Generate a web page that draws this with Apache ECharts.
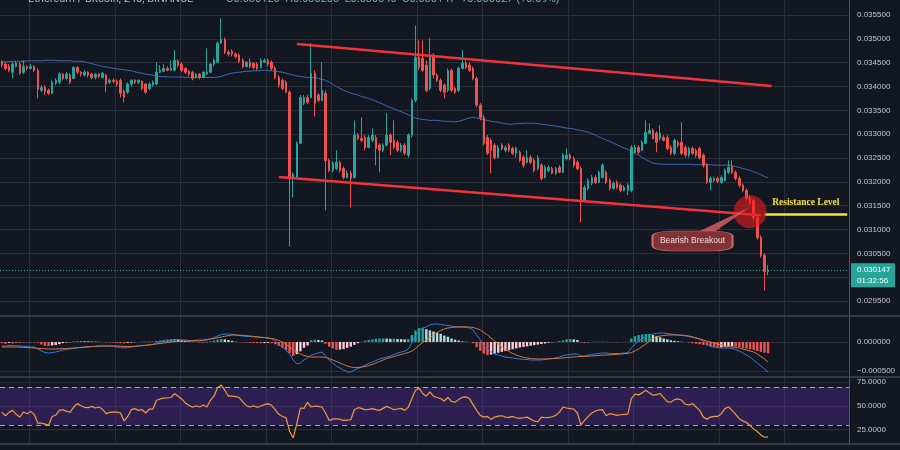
<!DOCTYPE html>
<html>
<head>
<meta charset="utf-8">
<script src="https://cdn.jsdelivr.net/npm/echarts@6.0.0/dist/echarts.min.js"></script>
<style>
html,body{margin:0;padding:0;background:#131722;overflow:hidden}
#chart{width:900px;height:450px}
</style>
</head>
<body>
<div id="chart"></div>
<script>
// ---- DATA (ETH/BTC, 4h candles) ----
// [open, close, low, high]
const candles = [
[0.03451,0.03445,0.03440,0.03455],[0.03447,0.03438,0.03434,0.03451],[0.03442,0.03434,0.03430,0.03447],[0.03430,0.03447,0.03417,0.03451],
[0.03442,0.03449,0.03440,0.03453],[0.03447,0.03428,0.03424,0.03451],[0.03430,0.03442,0.03426,0.03455],[0.03442,0.03438,0.03434,0.03445],
[0.03438,0.03442,0.03436,0.03447],[0.03442,0.03434,0.03430,0.03445],[0.03434,0.03394,0.03375,0.03438],[0.03392,0.03398,0.03388,0.03403],
[0.03398,0.03390,0.03382,0.03403],[0.03392,0.03386,0.03382,0.03396],[0.03386,0.03409,0.03384,0.03413],[0.03407,0.03413,0.03403,0.03417],
[0.03409,0.03426,0.03405,0.03430],[0.03426,0.03417,0.03413,0.03428],[0.03417,0.03426,0.03413,0.03430],[0.03424,0.03409,0.03405,0.03428],
[0.03417,0.03440,0.03415,0.03442],[0.03440,0.03430,0.03426,0.03442],[0.03430,0.03426,0.03421,0.03432],[0.03424,0.03430,0.03421,0.03434],
[0.03430,0.03424,0.03419,0.03432],[0.03426,0.03419,0.03415,0.03428],[0.03419,0.03426,0.03415,0.03428],[0.03426,0.03421,0.03417,0.03428],
[0.03419,0.03428,0.03417,0.03430],[0.03424,0.03405,0.03388,0.03426],[0.03409,0.03413,0.03405,0.03417],[0.03413,0.03411,0.03407,0.03417],
[0.03411,0.03405,0.03400,0.03415],[0.03413,0.03386,0.03377,0.03417],[0.03390,0.03377,0.03367,0.03394],[0.03388,0.03405,0.03384,0.03409],
[0.03405,0.03413,0.03400,0.03415],[0.03413,0.03409,0.03405,0.03415],[0.03409,0.03413,0.03405,0.03415],[0.03411,0.03396,0.03392,0.03413],
[0.03405,0.03388,0.03384,0.03407],[0.03396,0.03405,0.03392,0.03409],[0.03403,0.03409,0.03400,0.03413],[0.03405,0.03430,0.03403,0.03451],
[0.03430,0.03434,0.03428,0.03445],[0.03432,0.03438,0.03430,0.03447],[0.03438,0.03434,0.03432,0.03442],[0.03434,0.03438,0.03432,0.03455],
[0.03434,0.03455,0.03432,0.03476],[0.03453,0.03445,0.03440,0.03457],[0.03447,0.03434,0.03430,0.03451],[0.03438,0.03430,0.03426,0.03440],
[0.03432,0.03426,0.03421,0.03434],[0.03430,0.03417,0.03413,0.03432],[0.03419,0.03426,0.03417,0.03428],[0.03426,0.03419,0.03415,0.03428],
[0.03419,0.03430,0.03417,0.03432],[0.03426,0.03430,0.03424,0.03480],[0.03430,0.03447,0.03428,0.03449],[0.03447,0.03455,0.03442,0.03459],
[0.03451,0.03491,0.03449,0.03495],[0.03491,0.03499,0.03489,0.03543],[0.03499,0.03472,0.03468,0.03503],[0.03472,0.03468,0.03463,0.03476],
[0.03474,0.03468,0.03463,0.03478],[0.03468,0.03463,0.03459,0.03472],[0.03466,0.03453,0.03449,0.03470],[0.03455,0.03442,0.03438,0.03459],
[0.03442,0.03451,0.03440,0.03453],[0.03451,0.03442,0.03438,0.03459],[0.03449,0.03440,0.03436,0.03451],[0.03447,0.03438,0.03434,0.03451],
[0.03440,0.03455,0.03438,0.03459],[0.03451,0.03455,0.03449,0.03459],[0.03455,0.03447,0.03442,0.03459],[0.03451,0.03438,0.03434,0.03455],
[0.03438,0.03419,0.03415,0.03442],[0.03419,0.03403,0.03398,0.03424],[0.03413,0.03396,0.03392,0.03417],[0.03409,0.03388,0.03386,0.03413],
[0.03388,0.03209,0.03064,0.03392],[0.03209,0.03216,0.03167,0.03220],[0.03209,0.03281,0.03207,0.03285],[0.03281,0.03377,0.03279,0.03382],
[0.03365,0.03377,0.03361,0.03382],[0.03377,0.03367,0.03363,0.03382],[0.03377,0.03428,0.03375,0.03491],[0.03428,0.03365,0.03337,0.03434],
[0.03382,0.03371,0.03367,0.03386],[0.03371,0.03392,0.03369,0.03451],[0.03386,0.03245,0.03140,0.03392],[0.03245,0.03224,0.03220,0.03249],
[0.03224,0.03239,0.03220,0.03243],[0.03228,0.03241,0.03224,0.03266],[0.03241,0.03224,0.03220,0.03245],[0.03228,0.03209,0.03205,0.03232],
[0.03209,0.03218,0.03207,0.03224],[0.03218,0.03207,0.03146,0.03224],[0.03209,0.03298,0.03207,0.03329],[0.03298,0.03291,0.03287,0.03302],
[0.03291,0.03287,0.03283,0.03335],[0.03293,0.03272,0.03266,0.03298],[0.03272,0.03293,0.03270,0.03298],[0.03287,0.03298,0.03283,0.03312],
[0.03293,0.03270,0.03235,0.03298],[0.03277,0.03266,0.03220,0.03281],[0.03266,0.03277,0.03262,0.03281],[0.03277,0.03298,0.03274,0.03344],
[0.03298,0.03283,0.03256,0.03302],[0.03287,0.03272,0.03268,0.03329],[0.03283,0.03266,0.03262,0.03287],[0.03266,0.03277,0.03262,0.03281],
[0.03277,0.03260,0.03256,0.03281],[0.03256,0.03298,0.03251,0.03302],[0.03298,0.03371,0.03293,0.03375],[0.03371,0.03461,0.03367,0.03528],
[0.03461,0.03440,0.03434,0.03497],[0.03459,0.03434,0.03430,0.03497],[0.03445,0.03392,0.03388,0.03455],[0.03396,0.03466,0.03392,0.03501],
[0.03466,0.03424,0.03417,0.03470],[0.03424,0.03413,0.03409,0.03428],[0.03413,0.03392,0.03388,0.03417],[0.03403,0.03388,0.03375,0.03407],
[0.03392,0.03434,0.03388,0.03438],[0.03434,0.03392,0.03388,0.03438],[0.03396,0.03388,0.03384,0.03400],[0.03392,0.03438,0.03388,0.03442],
[0.03438,0.03449,0.03436,0.03476],[0.03449,0.03440,0.03436,0.03455],[0.03445,0.03434,0.03430,0.03451],[0.03438,0.03417,0.03413,0.03442],
[0.03417,0.03361,0.03356,0.03421],[0.03361,0.03335,0.03329,0.03365],[0.03335,0.03281,0.03277,0.03340],[0.03293,0.03260,0.03256,0.03298],
[0.03287,0.03266,0.03218,0.03291],[0.03277,0.03251,0.03247,0.03281],[0.03251,0.03272,0.03249,0.03277],[0.03277,0.03270,0.03266,0.03281],
[0.03266,0.03272,0.03262,0.03277],[0.03277,0.03266,0.03262,0.03281],[0.03270,0.03260,0.03256,0.03274],[0.03260,0.03270,0.03251,0.03274],
[0.03262,0.03245,0.03241,0.03266],[0.03251,0.03235,0.03230,0.03256],[0.03241,0.03251,0.03239,0.03266],[0.03251,0.03241,0.03237,0.03256],
[0.03245,0.03224,0.03220,0.03249],[0.03228,0.03251,0.03224,0.03256],[0.03235,0.03207,0.03203,0.03239],[0.03209,0.03230,0.03207,0.03235],
[0.03224,0.03230,0.03220,0.03235],[0.03228,0.03218,0.03216,0.03232],[0.03218,0.03228,0.03214,0.03232],[0.03230,0.03220,0.03218,0.03235],
[0.03220,0.03256,0.03218,0.03260],[0.03249,0.03256,0.03245,0.03270],[0.03256,0.03249,0.03245,0.03260],[0.03249,0.03235,0.03230,0.03253],
[0.03241,0.03228,0.03224,0.03245],[0.03228,0.03161,0.03115,0.03232],[0.03161,0.03188,0.03157,0.03193],[0.03186,0.03203,0.03182,0.03207],
[0.03197,0.03209,0.03193,0.03214],[0.03209,0.03199,0.03195,0.03214],[0.03199,0.03220,0.03197,0.03224],[0.03209,0.03235,0.03207,0.03239],
[0.03220,0.03199,0.03195,0.03224],[0.03203,0.03186,0.03182,0.03207],[0.03186,0.03197,0.03184,0.03201],[0.03199,0.03188,0.03184,0.03203],
[0.03193,0.03182,0.03178,0.03197],[0.03182,0.03188,0.03180,0.03193],[0.03182,0.03193,0.03172,0.03197],[0.03182,0.03272,0.03178,0.03277],
[0.03262,0.03272,0.03260,0.03277],[0.03272,0.03262,0.03258,0.03277],[0.03266,0.03283,0.03264,0.03287],[0.03281,0.03304,0.03279,0.03329],
[0.03302,0.03308,0.03300,0.03323],[0.03308,0.03291,0.03289,0.03312],[0.03302,0.03283,0.03262,0.03306],[0.03291,0.03302,0.03287,0.03319],
[0.03293,0.03287,0.03285,0.03298],[0.03293,0.03270,0.03266,0.03298],[0.03272,0.03260,0.03256,0.03277],[0.03260,0.03287,0.03256,0.03291],
[0.03283,0.03277,0.03272,0.03287],[0.03283,0.03260,0.03256,0.03325],[0.03272,0.03256,0.03251,0.03277],[0.03256,0.03270,0.03251,0.03274],
[0.03270,0.03260,0.03256,0.03274],[0.03266,0.03256,0.03251,0.03270],[0.03270,0.03251,0.03247,0.03274],[0.03256,0.03235,0.03230,0.03260],
[0.03235,0.03199,0.03195,0.03239],[0.03199,0.03207,0.03182,0.03211],[0.03203,0.03207,0.03199,0.03211],[0.03207,0.03201,0.03197,0.03211],
[0.03199,0.03209,0.03195,0.03214],[0.03203,0.03224,0.03201,0.03228],[0.03220,0.03230,0.03216,0.03245],[0.03232,0.03220,0.03216,0.03245],
[0.03220,0.03207,0.03203,0.03224],[0.03207,0.03193,0.03188,0.03211],[0.03193,0.03182,0.03178,0.03197],[0.03182,0.03165,0.03161,0.03186],
[0.03167,0.03155,0.03151,0.03172],[0.03161,0.03125,0.03119,0.03165],[0.03125,0.03083,0.03079,0.03130],[0.03083,0.03046,0.03041,0.03088],
[0.03046,0.03012,0.02972,0.03050],[0.03012,0.030147,0.03004,0.03025]
];

// moving average (blue)
const ma = [
0.03452,0.03452,0.03452,0.03453,0.03453,0.03453,
0.03453,0.03454,0.03454,0.03454,0.03454,0.03454,0.03455,0.03455,0.03455,0.03455,0.03454,0.03454,0.03454,0.03454,0.03453,0.03453,0.03453,
0.03452,0.03450,0.03448,0.03446,0.03444,
0.03442,0.03441,0.03440,0.03438,0.03437,0.03436,0.03435,0.03434,0.03433,
0.03431,0.03429,0.03428,0.03426,0.03425,0.03424,
0.03422,0.03421,0.03421,0.03420,0.03420,0.03420,0.03420,0.03420,0.03419,0.03419,0.03419,0.03419,0.03419,0.03419,0.03419,0.03419,0.03419,
0.03420,0.03421,0.03424,0.03426,0.03428,
0.03429,0.03430,0.03431,0.03432,0.03432,0.03433,0.03433,0.03434,
0.03434,0.03434,0.03433,0.03432,0.03431,0.03430,
0.03428,0.03426,0.03424,0.03422,0.03421,0.03420,
0.03419,0.03419,0.03418,0.03417,0.03415,0.03413,
0.03409,0.03405,0.03400,0.03396,0.03392,0.03389,
0.03386,0.03384,0.03382,0.03379,0.03377,0.03375,
0.03372,0.03369,0.03366,0.03363,0.03359,0.03356,0.03353,
0.03350,0.03347,0.03344,0.03341,0.03337,0.03334,
0.03332,0.03331,0.03330,0.03329,0.03329,0.03329,0.03328,
0.03327,0.03327,0.03326,0.03326,0.03327,0.03329,
0.03332,0.03334,0.03335,0.03334,0.03332,
0.03330,0.03329,0.03327,0.03326,0.03325,0.03323,0.03322,
0.03321,0.03321,0.03322,0.03322,0.03323,0.03323,0.03323,0.03323,0.03322,0.03321,
0.03320,0.03319,0.03318,0.03317,0.03316,0.03314,
0.03313,0.03312,0.03311,0.03309,0.03308,0.03306,0.03304,
0.03301,0.03298,0.03294,0.03291,0.03288,0.03285,0.03281,
0.03278,0.03274,0.03271,0.03268,0.03264,0.03260,
0.03256,0.03251,0.03247,0.03243,0.03239,
0.03238,0.03237,0.03237,0.03237,0.03237,0.03237,0.03237,0.03237,0.03237,0.03237,
0.03236,0.03236,0.03236,0.03236,0.03236,0.03236,0.03235,0.03235,0.03235,0.03235,0.03235,
0.03234,0.03232,0.03230,0.03228,0.03226,0.03224,
0.03221,0.03218,0.03215,0.03211,0.03209
];

// MACD line (blue)
const macdLine = [
-69e-6,-69e-6,-60e-6,-60e-6,-69e-6,-69e-6,-77e-6,-77e-6,-86e-6,-86e-6,
-120e-6,-155e-6,-181e-6,-189e-6,-181e-6,-172e-6,-155e-6,
-138e-6,-129e-6,-120e-6,-112e-6,-103e-6,-95e-6,-86e-6,-86e-6,-77e-6,-77e-6,-69e-6,
-69e-6,-69e-6,-69e-6,-77e-6,-86e-6,-95e-6,-103e-6,-95e-6,-86e-6,
-77e-6,-69e-6,-60e-6,-60e-6,-52e-6,-43e-6,
-17e-6,0,17e-6,26e-6,34e-6,43e-6,43e-6,34e-6,34e-6,26e-6,
17e-6,17e-6,17e-6,26e-6,34e-6,52e-6,77e-6,
103e-6,129e-6,138e-6,138e-6,129e-6,120e-6,
112e-6,103e-6,95e-6,95e-6,86e-6,86e-6,77e-6,77e-6,69e-6,
52e-6,17e-6,-34e-6,-86e-6,-138e-6,
-206e-6,-310e-6,-378e-6,-361e-6,-310e-6,-275e-6,-224e-6,-206e-6,-189e-6,-172e-6,
-241e-6,-310e-6,-361e-6,-413e-6,-447e-6,-482e-6,-516e-6,-516e-6,-482e-6,-456e-6,
-430e-6,-396e-6,-370e-6,-344e-6,-318e-6,-292e-6,-275e-6,-258e-6,-241e-6,-215e-6,-189e-6,-172e-6,-155e-6,-120e-6,
-17e-6,120e-6,189e-6,241e-6,258e-6,292e-6,310e-6,310e-6,301e-6,292e-6,284e-6,275e-6,258e-6,258e-6,258e-6,249e-6,241e-6,
206e-6,120e-6,34e-6,-69e-6,-138e-6,-172e-6,-206e-6,-224e-6,-241e-6,-258e-6,-267e-6,-275e-6,-284e-6,-292e-6,-301e-6,-301e-6,-310e-6,-310e-6,-310e-6,-310e-6,
-301e-6,-292e-6,-284e-6,-275e-6,-258e-6,-232e-6,-224e-6,-215e-6,-206e-6,-206e-6,-241e-6,-241e-6,-224e-6,-215e-6,-206e-6,-198e-6,-189e-6,-189e-6,-198e-6,-198e-6,-198e-6,-198e-6,-189e-6,-181e-6,
-103e-6,-34e-6,17e-6,52e-6,86e-6,120e-6,138e-6,146e-6,155e-6,155e-6,146e-6,138e-6,129e-6,120e-6,112e-6,103e-6,95e-6,86e-6,
69e-6,52e-6,17e-6,-34e-6,-77e-6,-86e-6,-95e-6,-103e-6,-103e-6,-103e-6,-112e-6,-129e-6,-155e-6,-189e-6,-224e-6,-258e-6,-310e-6,-361e-6,-413e-6,-464e-6,-516e-6
];

// signal line (orange)
const signalLine = [
-86e-6,-86e-6,-86e-6,-86e-6,-86e-6,-89e-6,-93e-6,-96e-6,-100e-6,-103e-6,-108e-6,-114e-6,-117e-6,-120e-6,
-120e-6,-120e-6,-117e-6,-114e-6,-110e-6,-107e-6,-103e-6,-98e-6,-93e-6,-88e-6,-83e-6,-77e-6,-74e-6,-69e-6,
-69e-6,-69e-6,-69e-6,-69e-6,-69e-6,-72e-6,-76e-6,-77e-6,-77e-6,-74e-6,-69e-6,-62e-6,-55e-6,-48e-6,-41e-6,
-34e-6,-26e-6,-17e-6,-9e-6,0,5e-6,10e-6,14e-6,17e-6,21e-6,
24e-6,28e-6,31e-6,34e-6,41e-6,52e-6,62e-6,72e-6,86e-6,98e-6,110e-6,120e-6,
120e-6,117e-6,114e-6,110e-6,103e-6,96e-6,89e-6,83e-6,76e-6,69e-6,
60e-6,48e-6,26e-6,0,-34e-6,-86e-6,-138e-6,
-172e-6,-206e-6,-232e-6,-249e-6,-258e-6,-258e-6,-258e-6,-258e-6,-267e-6,-284e-6,-310e-6,-335e-6,-361e-6,-387e-6,-413e-6,-430e-6,
-439e-6,-439e-6,-430e-6,-421e-6,-404e-6,-387e-6,-361e-6,-335e-6,-310e-6,-284e-6,-267e-6,-249e-6,-232e-6,-215e-6,-198e-6,-181e-6,
-155e-6,-112e-6,-60e-6,-9e-6,34e-6,77e-6,120e-6,163e-6,198e-6,
224e-6,241e-6,249e-6,258e-6,258e-6,261e-6,261e-6,258e-6,
249e-6,232e-6,206e-6,163e-6,120e-6,69e-6,17e-6,-34e-6,-86e-6,-129e-6,
-163e-6,-198e-6,-224e-6,-246e-6,-263e-6,-275e-6,-284e-6,-289e-6,-292e-6,
-292e-6,-292e-6,-289e-6,-286e-6,-282e-6,-279e-6,-275e-6,-268e-6,-263e-6,
-258e-6,-253e-6,-249e-6,-248e-6,-244e-6,-241e-6,-236e-6,-230e-6,-227e-6,-224e-6,-220e-6,-217e-6,-212e-6,-206e-6,-201e-6,-196e-6,
-181e-6,-155e-6,-120e-6,-77e-6,-34e-6,17e-6,60e-6,
86e-6,103e-6,112e-6,120e-6,120e-6,120e-6,120e-6,
117e-6,112e-6,103e-6,86e-6,69e-6,52e-6,34e-6,
17e-6,0,-17e-6,-34e-6,-52e-6,
-69e-6,-77e-6,-86e-6,-95e-6,-103e-6,-120e-6,-138e-6,-155e-6,-172e-6,
-206e-6,-249e-6,-292e-6,-344e-6
];

// MACD histogram
const macdHist = [
-20e-6,-30e-6,-15e-6,-25e-6,-10e-6,-15e-6,-5e-6,-8e-6,-4e-6,-6e-6,
-12e-6,-41e-6,-64e-6,-69e-6,-61e-6,-52e-6,-38e-6,-20e-6,-10e-6,-5e-6,
10e-6,14e-6,18e-6,14e-6,12e-6,8e-6,6e-6,4e-6,
0,-5e-6,-8e-6,-10e-6,-15e-6,-20e-6,-22e-6,-15e-6,-10e-6,
-5e-6,0,5e-6,8e-6,5e-6,6e-6,
17e-6,26e-6,34e-6,40e-6,45e-6,50e-6,42e-6,30e-6,22e-6,12e-6,
5e-6,0,-8e-6,-12e-6,-6e-6,
10e-6,25e-6,40e-6,50e-6,45e-6,35e-6,20e-6,
5e-6,0,-5e-6,-10e-6,-15e-6,-18e-6,-20e-6,-22e-6,-18e-6,-15e-6,
-20e-6,-40e-6,-70e-6,-100e-6,-140e-6,-190e-6,-240e-6,-210e-6,-160e-6,-100e-6,-60e-6,
30e-6,40e-6,35e-6,25e-6,
-30e-6,-80e-6,-110e-6,-135e-6,-130e-6,-120e-6,-100e-6,-80e-6,-50e-6,
-20e-6,5e-6,20e-6,35e-6,45e-6,55e-6,60e-6,60e-6,58e-6,55e-6,55e-6,52e-6,50e-6,45e-6,50e-6,
120e-6,200e-6,240e-6,240e-6,220e-6,200e-6,180e-6,160e-6,140e-6,110e-6,90e-6,
60e-6,40e-6,25e-6,10e-6,5e-6,0,
-20e-6,-90e-6,-150e-6,-200e-6,-225e-6,-215e-6,-200e-6,-185e-6,-170e-6,-155e-6,-140e-6,-125e-6,-110e-6,-95e-6,-85e-6,-75e-6,-65e-6,-55e-6,-45e-6,-35e-6,-25e-6,-15e-6,
-5e-6,5e-6,15e-6,30e-6,45e-6,50e-6,45e-6,35e-6,
-10e-6,-15e-6,-5e-6,
3e-6,5e-6,5e-6,4e-6,2e-6,0,-3e-6,-2e-6,0,2e-6,3e-6,
60e-6,100e-6,120e-6,130e-6,138e-6,140e-6,120e-6,100e-6,80e-6,60e-6,45e-6,30e-6,20e-6,12e-6,5e-6,0,
-10e-6,-20e-6,-30e-6,-40e-6,-50e-6,-60e-6,-75e-6,-90e-6,-100e-6,
-95e-6,-85e-6,-80e-6,-75e-6,
-80e-6,-90e-6,-100e-6,-115e-6,-125e-6,-140e-6,-155e-6,-170e-6,-185e-6,-195e-6
];

// RSI
const rsi = [
43.6,39.7,43.3,45.4,41.2,38.3,43.6,41.9,44.3,41.2,
32.0,32.0,30.9,29.8,39.0,40.5,45.4,46.1,44.3,43.6,
48.9,52.5,50.3,48.6,48.2,49.6,47.9,48.9,46.5,41.9,
43.3,43.6,43.6,42.6,34.1,39.0,46.1,47.2,45.4,46.1,
42.6,46.8,46.8,56.0,57.4,58.2,58.5,58.9,63.1,60.3,
57.4,53.2,50.7,48.6,50.3,48.9,51.1,48.9,56.0,60.6,
69.5,72.0,66.6,60.3,60.3,59.9,58.9,54.3,50.3,48.9,
50.3,48.6,50.0,51.4,52.5,50.7,46.1,41.2,39.0,37.6,
23.5,16.4,31.2,47.9,47.5,53.9,48.9,50.0,49.6,48.9,
42.6,34.8,36.2,36.6,35.9,34.8,35.2,35.5,46.1,48.2,
47.5,46.1,46.5,47.2,46.1,45.4,47.5,49.6,47.9,46.1,
46.8,47.5,45.4,48.6,57.8,66.6,68.8,63.1,60.3,64.9,
60.3,58.9,57.8,55.3,58.9,54.9,53.9,56.7,59.2,59.6,
57.8,51.4,45.4,40.1,38.3,39.0,35.9,38.3,39.4,39.7,
38.3,38.0,39.0,37.6,36.9,37.6,38.3,36.2,34.1,33.4,
38.3,37.6,38.0,38.7,40.1,43.6,48.9,47.9,47.2,46.8,
42.6,30.2,34.8,39.0,42.6,44.7,45.8,46.1,39.7,41.9,
41.2,40.1,40.8,41.2,41.5,57.8,62.4,61.7,63.8,66.6,
63.8,61.3,62.0,63.1,58.9,54.6,53.9,56.7,57.4,56.0,
51.8,51.1,52.5,48.9,45.4,38.3,36.2,38.3,39.0,39.0,
41.9,47.2,48.9,45.4,41.2,36.6,34.1,32.7,29.5,25.9,
23.1,19.6,17.1,17.4
];

// axis tick labels
const priceTicks = [0.0295,0.0300,0.0305,0.0310,0.0315,0.0320,0.0325,0.0330,0.0335,0.0340,0.0345,0.0350,0.0355];
const macdTicks = [0, -0.0005];
const rsiTicks = [25, 50, 75];
const rsiBands = [30, 70];
// time-scale grid lines (bar slots where a date tick falls)
const timeGridSlots = [8,32,50,74,92,116,134,158,176,200,218];
const slotCount = 236;

// annotations (bar slot, price)
const upperTrend = [[82, 0.03489], [214, 0.03401]];
const lowerTrend = [[77, 0.03210], [211, 0.03130]];
const resistance = {from: 212, to: 235, price: 0.03132, text: 'Resistance Level'};
const breakout = {slot: 208, price: 0.03137};
const pointer = {slot: 201, price: 0.03122};
const callout = {slot: 192, price: 0.03076, text: 'Bearish Breakout'};
const countdown = '01:32:56';
const headerTitle = 'Ethereum / Bitcoin, 240, BINANCE';

// ---- CHART ----
const BG = '#131722', GRIDC = '#2a2e39', UP = '#26a69a', DOWN = '#ef5350';
const categories = Array.from({length: slotCount}, (_, i) => 'bar ' + (i + 1));
const gridSet = new Set(timeGridSlots);
const lastClose = candles[candles.length - 1][1];
const plotW = 849;
const panes = [{top: 0, height: 316}, {top: 316, height: 61}, {top: 377, height: 67}];
const labelStyle = {color: '#c3c6ce', fontSize: 8, fontFamily: 'Liberation Sans', margin: 8};

function xAxisFor(gi) {
  return {
    type: 'category', gridIndex: gi, data: categories, boundaryGap: true,
    axisLine: {show: false}, axisTick: {show: false}, axisLabel: {show: false},
    splitLine: {show: true, interval: (i) => gridSet.has(i), lineStyle: {color: GRIDC, width: 1}}
  };
}
function yAxisFor(gi, min, max, ticks, fmt) {
  return {
    type: 'value', gridIndex: gi, position: 'right', min: min, max: max,
    axisLine: {show: true, lineStyle: {color: '#50535e'}},
    axisTick: {show: false, customValues: ticks},
    axisLabel: Object.assign({customValues: ticks, formatter: fmt}, labelStyle),
    splitLine: {show: true, lineStyle: {color: GRIDC, width: 1}}
  };
}

const option = {
  backgroundColor: BG,
  animation: false,
  grid: panes.map(p => ({left: 0, width: plotW, top: p.top, height: p.height})),
  xAxis: [xAxisFor(0), xAxisFor(1), xAxisFor(2)],
  yAxis: [
    yAxisFor(0, 0.029185, 0.035815, priceTicks, v => v.toFixed(6)),
    yAxisFor(1, -0.000602, 0.000447, macdTicks, v => (v < 0 ? '\u2212' : '') + Math.abs(v).toFixed(6)),
    yAxisFor(2, 10, 80.5, rsiTicks, v => v.toFixed(4))
  ],
  series: [
    {
      name: 'MA', type: 'line', xAxisIndex: 0, yAxisIndex: 0, data: ma,
      showSymbol: false, silent: true, lineStyle: {color: '#3b6bb5', width: 1}, z: 1,
      markLine: {
        silent: true, symbol: ['none', 'none'], animation: false, label: {show: false}, precision: 8,
        data: [{yAxis: lastClose, lineStyle: {color: UP, type: [1, 2], width: 1}}]
      }
    },
    {
      name: 'ETHBTC', type: 'candlestick', xAxisIndex: 0, yAxisIndex: 0, data: candles,
      barWidth: 2, z: 2,
      itemStyle: {color: UP, color0: DOWN, borderColor: UP, borderColor0: DOWN, borderWidth: 1},
      markLine: {
        silent: true, symbol: ['none', 'none'], animation: false, precision: 8,
        label: {show: false},
        data: [
          [{coord: upperTrend[0], lineStyle: {color: '#f0323a', width: 2.5, type: 'solid'}}, {coord: upperTrend[1]}],
          [{coord: lowerTrend[0], lineStyle: {color: '#f0323a', width: 2.5, type: 'solid'}}, {coord: lowerTrend[1]}],
          [{coord: [resistance.from, resistance.price], lineStyle: {color: '#f3e23a', width: 2.5, type: 'solid'},
            label: {show: true, formatter: resistance.text, position: 'insideMiddleTop', distance: 7,
                    color: '#efe046', fontFamily: 'Liberation Serif', fontWeight: 'bold', fontSize: 9.5}},
           {coord: [resistance.to, resistance.price]}]
        ]
      },
      markPoint: {
        silent: true, animation: false,
        data: [
          {coord: [breakout.slot, breakout.price], symbol: 'circle', symbolSize: 33,
           itemStyle: {color: 'rgba(235,28,32,0.6)'}, label: {show: false}},
          {coord: [pointer.slot, pointer.price], symbol: 'path://M0,24L16,24L50,0Z', symbolSize: [50, 24],
           itemStyle: {color: 'rgba(200,90,95,0.9)'}, label: {show: false}},
          {coord: [callout.slot, callout.price], symbol: 'roundRect', symbolSize: [80, 20],
           itemStyle: {color: 'rgba(140,52,56,0.92)', borderColor: 'rgba(220,120,120,0.9)', borderWidth: 1},
           label: {show: true, position: 'inside', formatter: callout.text, color: '#ecdede',
                   fontSize: 8.5, fontFamily: 'Liberation Sans'}}
        ]
      }
    },
    {
      name: 'Histogram', type: 'bar', xAxisIndex: 1, yAxisIndex: 1, data: macdHist, barWidth: 2.4, silent: true,
      itemStyle: {
        color: p => {
          const v = macdHist[p.dataIndex];
          const prev = p.dataIndex > 0 ? macdHist[p.dataIndex - 1] : 0;
          if (v >= 0) return v >= prev ? '#26a69a' : '#b2dfdb';
          return v < prev ? '#ef5350' : '#ffcdd2';
        }
      }
    },
    {name: 'MACD', type: 'line', xAxisIndex: 1, yAxisIndex: 1, data: macdLine, showSymbol: false, silent: true,
     lineStyle: {color: '#2f7ed8', width: 1}},
    {name: 'Signal', type: 'line', xAxisIndex: 1, yAxisIndex: 1, data: signalLine, showSymbol: false, silent: true,
     lineStyle: {color: '#d9783e', width: 1}},
    {
      name: 'RSI', type: 'line', xAxisIndex: 2, yAxisIndex: 2, data: rsi, showSymbol: false, silent: true,
      lineStyle: {color: '#f19c38', width: 1.2}, z: 3,
      markArea: {silent: true, itemStyle: {color: 'rgba(110,50,200,0.3)'},
                 data: [[{yAxis: rsiBands[0]}, {yAxis: rsiBands[1]}]]},
      markLine: {silent: true, symbol: ['none', 'none'], label: {show: false},
                 lineStyle: {color: '#a7a3bd', type: [5, 4], width: 1},
                 data: [{yAxis: rsiBands[1]}, {yAxis: rsiBands[0]}]}
    }
  ]
};

const chart = echarts.init(document.getElementById('chart'), null, {renderer: 'canvas'});
chart.setOption(option);

const py = chart.convertToPixel({yAxisIndex: 0}, lastClose);
const sepColor = '#434651';
const seps = [panes[0].top + panes[0].height, panes[1].top + panes[1].height, panes[2].top + panes[2].height];
chart.setOption({
  graphic: [
    {type: 'text', left: 28, top: -6, z: 50, style: {text: headerTitle, fill: '#b4b8c2', font: '11px Roboto'}},
    {type: 'text', left: 226, top: -6, z: 50, style: {
      text: 'O0.030120  H0.030250  L0.030040  C' + lastClose.toFixed(6) + '  +0.000027 (+0.09%)',
      fill: '#6fb3a8', font: '11px Roboto'}},
    ...seps.map(y => ({type: 'line', z: 50, shape: {x1: 0, y1: y, x2: 900, y2: y},
                       style: {stroke: sepColor, lineWidth: 1.5}})),
    {type: 'rect', z: 60, shape: {x: 851, y: py - 7, width: 44, height: 24}, style: {fill: '#26a69a'}},
    {type: 'text', z: 61, x: 857, y: py, style: {text: lastClose.toFixed(6), fill: '#ffffff',
      font: '8px Liberation Sans', verticalAlign: 'middle'}},
    {type: 'text', z: 61, x: 857, y: py + 11, style: {text: countdown, fill: '#ffffff',
      font: '8px Liberation Sans', verticalAlign: 'middle'}}
  ]
});
</script>
</body>
</html>
